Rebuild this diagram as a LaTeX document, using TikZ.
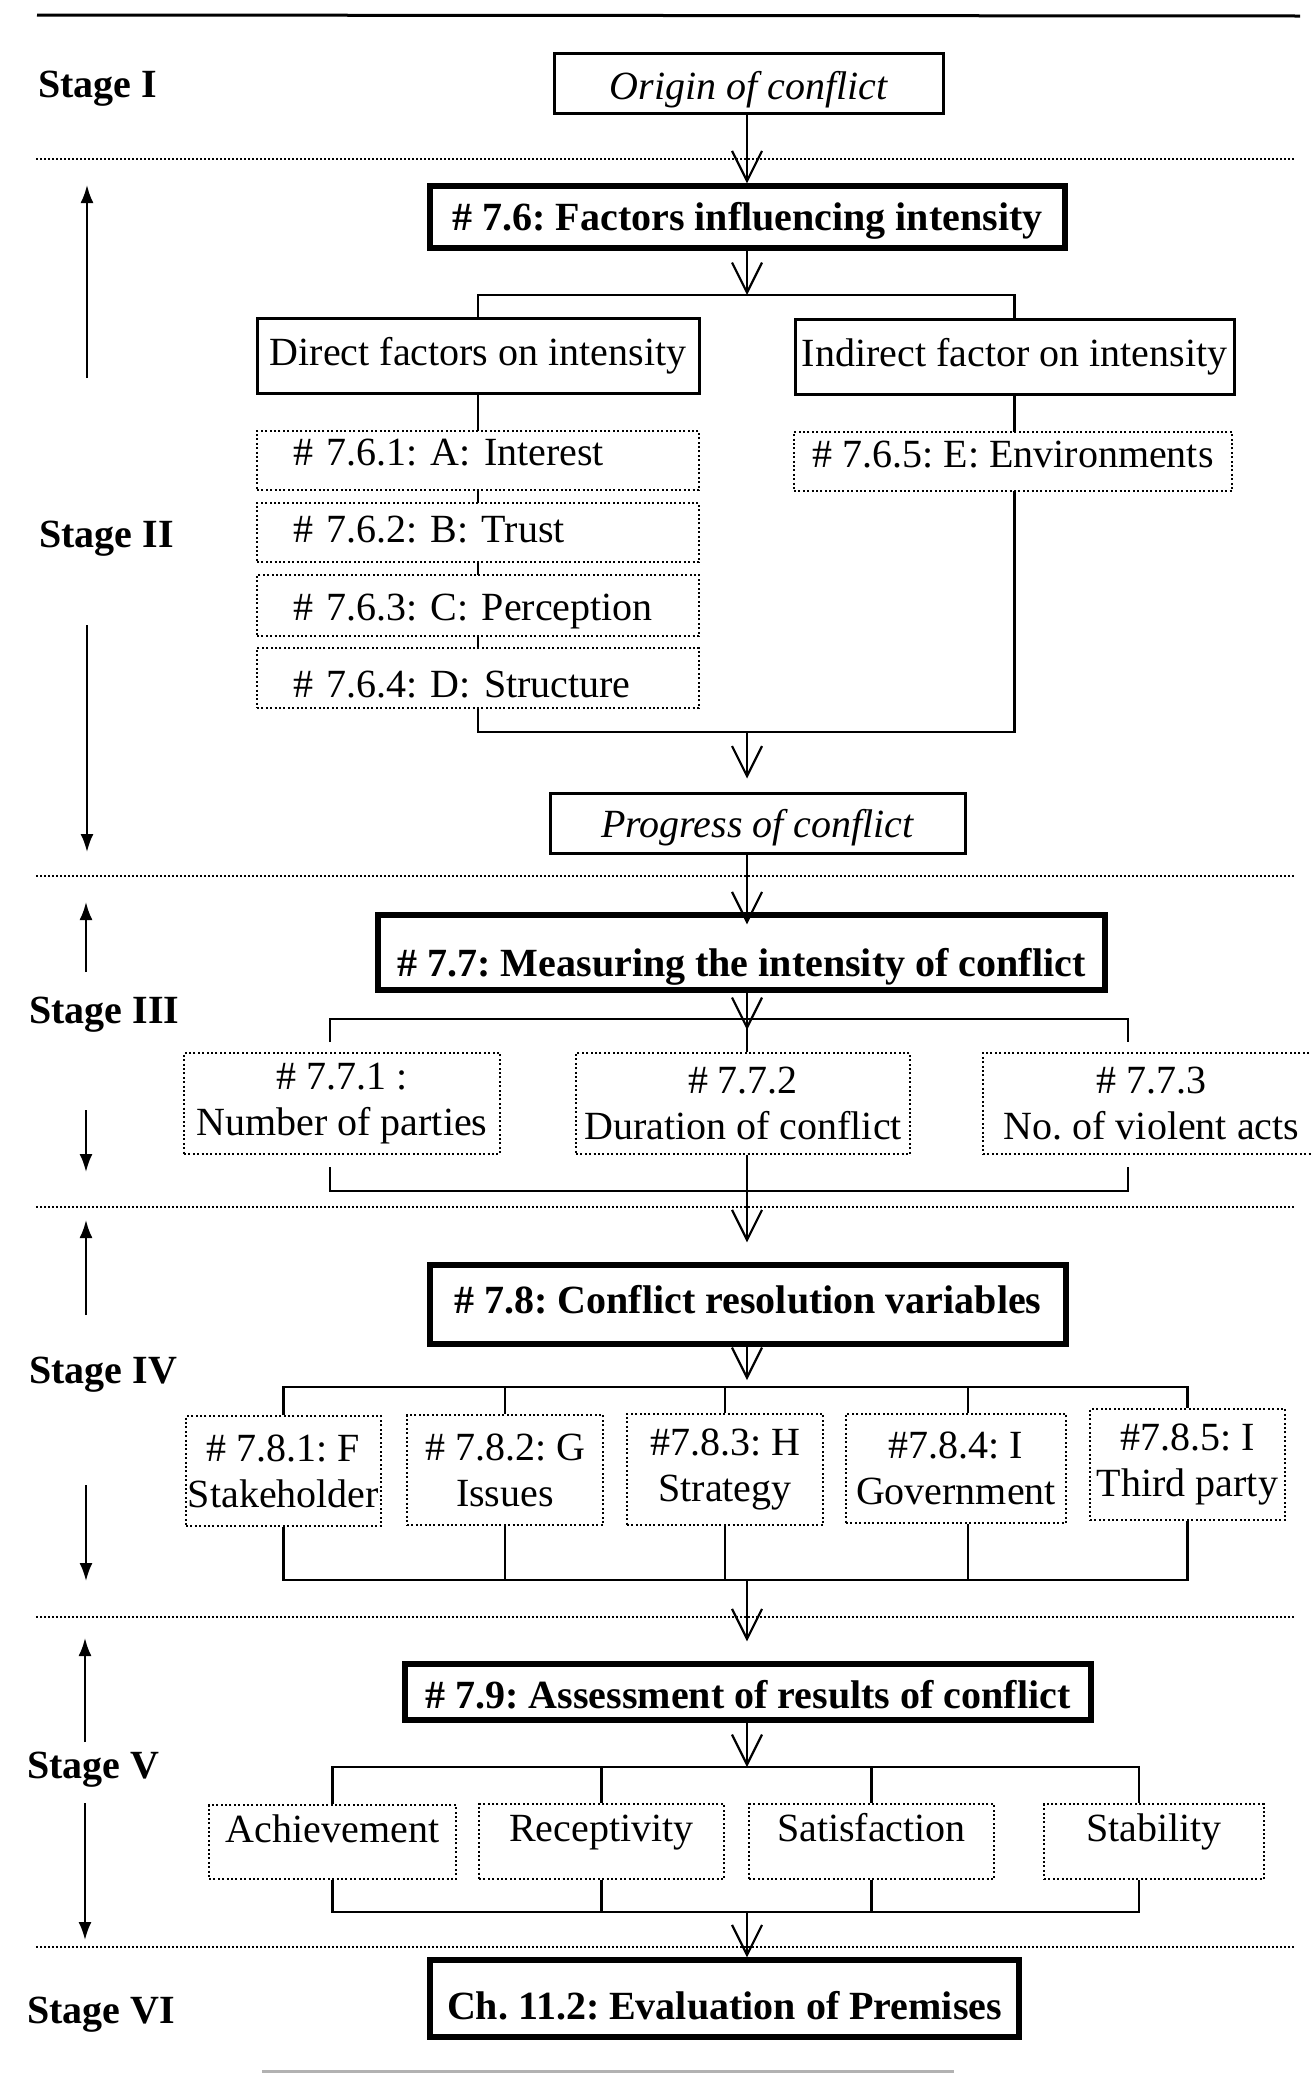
\documentclass[tikz,border=0pt]{standalone}
\usepackage{fontspec}
\setmainfont{Liberation Serif}
\usetikzlibrary{arrows.meta}
\begin{document}
\frenchspacing
\begin{tikzpicture}[x=0.5pt,y=-0.5pt,
  every node/.style={inner sep=0pt, font=\fontsize{20}{23}\selectfont},
  boxat/.style args={#1/#2/#3/#4}{at={({(#1+#3)/2},{(#2+#4)/2})},
    minimum width={(#3-#1)*0.5pt}, minimum height={(#4-#2)*0.5pt}},
  plainbox/.style={draw, line width=1.5pt, fill=white},
  headbox/.style={draw, line width=2.6pt, fill=white, font=\fontsize{20}{23}\selectfont\bfseries},
  dotbox/.style={draw, line width=1pt, dash pattern=on 1pt off 1.2pt, fill=white},
  txtpos/.style 2 args={text height=#1, text depth=#2},
  leftlist/.style={text width=185pt, align=left},
  twoline/.style={align=center},
  conn/.style={line width=1.1pt},
  flow/.style={conn, -{Straight Barb[length=15pt,width=15pt]}},
  span/.style={line width=1.1pt, -{Latex[length=9pt,width=6.5pt]}},
  divider/.style={line width=1pt, dash pattern=on 1pt off 1pt},
  stagelabel/.style={anchor=base west, font=\fontsize{20}{23}\selectfont\bfseries},
]
\useasboundingbox (0,0) rectangle (1312,2073);
\fill[white] (0,0) rectangle (1312,2073);
\clip (0,0) rectangle (1312,2073);

% page rules and stage dividers
\draw[line width=1.5pt] (37,15) -- (1300,16);
\draw[line width=1.5pt, gray!60] (262,2071) -- (954,2071);
\foreach \yy in {159,876,1207,1617,1947}
  \draw[divider] (36,\yy) -- (1296,\yy);

% main vertical spine and branching points
\coordinate (spine) at (747,0);
\coordinate (splitA) at (747,295);
\coordinate (mergeA) at (747,732);
\coordinate (split77) at (747,1019);
\coordinate (b77L) at (330,1019);
\coordinate (b77R) at (1128,1019);
\coordinate (join77) at (747,1191);
\coordinate (split78) at (747,1387);
\coordinate (join78) at (747,1580);
\coordinate (split79) at (747,1767);
\coordinate (join79) at (747,1912);

% stage labels
\node[stagelabel] (stI)   at (38,97)   {Stage I};
\node[stagelabel] (stII)  at (39,547)  {Stage II};
\node[stagelabel] (stIII) at (29,1023) {Stage III};
\node[stagelabel] (stIV)  at (29,1383) {Stage IV};
\node[stagelabel] (stV)   at (27,1778) {Stage V};
\node[stagelabel] (stVI)  at (27,2023) {Stage VI};

% stage extent arrows
\coordinate (u2a) at (87,378);  \coordinate (u2b) at (87,185);
\coordinate (d2a) at (87,625);  \coordinate (d2b) at (87,852);
\coordinate (u3a) at (86,972);  \coordinate (u3b) at (86,902);
\coordinate (d3a) at (86,1110); \coordinate (d3b) at (86,1172);
\coordinate (u4a) at (86,1315); \coordinate (u4b) at (86,1220);
\coordinate (d4a) at (86,1485); \coordinate (d4b) at (86,1581);
\coordinate (u5a) at (85,1742); \coordinate (u5b) at (85,1638);
\coordinate (d5a) at (85,1803); \coordinate (d5b) at (85,1940);
\draw[span] (u2a) -- (u2b);  \draw[span] (d2a) -- (d2b);
\draw[span] (u3a) -- (u3b);  \draw[span] (d3a) -- (d3b);
\draw[span] (u4a) -- (u4b);  \draw[span] (d4a) -- (d4b);
\draw[span] (u5a) -- (u5b);  \draw[span] (d5a) -- (d5b);

% Stage I and II
\node[plainbox, boxat=554/53/943/113, txtpos={22pt}{6pt}] (origin) {\itshape Origin of conflict};
\node[headbox, boxat=430/186/1065/248, txtpos={20.5pt}{7.5pt}] (factors) {\# 7.6: Factors influencing intensity};
\draw[flow] (spine |- origin.south) -- (spine |- factors.north);

\node[plainbox, boxat=257/318/699/393, txtpos={19pt}{9pt}] (direct) {Direct factors on intensity};
\node[plainbox, boxat=795/319/1234/394, txtpos={19pt}{9pt}] (indirect) {Indirect factor on intensity};
\draw[flow] (spine |- factors.south) -- (splitA);
\draw[conn] (direct.north) -- (direct.north |- splitA) -- (indirect.north |- splitA) -- (indirect.north);

% both factor chains join before the progress box
\draw[conn] (direct.south) |- (mergeA) -| (indirect.south);

\node[dotbox, boxat=257/431/699/490, leftlist, txtpos={16.5pt}{11.5pt}] (f1) {\# 7.6.1: A: Interest};
\node[dotbox, boxat=257/503/699/562, leftlist, txtpos={19pt}{9pt}] (f2) {\# 7.6.2: B: Trust};
\node[dotbox, boxat=257/575/699/636, leftlist, txtpos={21.5pt}{6.5pt}] (f3) {\# 7.6.3: C: Perception};
\node[dotbox, boxat=257/648/699/708, leftlist, txtpos={23.5pt}{4.5pt}] (f4) {\# 7.6.4: D: Structure};
\node[dotbox, boxat=794/432/1232/491, txtpos={17pt}{11pt}] (f5) {\# 7.6.5: E: Environments};

\node[plainbox, boxat=550/793/965/853, txtpos={21pt}{7pt}] (progress) {\itshape Progress of conflict};
\draw[flow, shorten >=6.5pt] (mergeA) -- (spine |- progress.north);

% Stage III
\node[headbox, boxat=378/915/1105/990, txtpos={26pt}{2pt}] (measure) {\# 7.7: Measuring the intensity of conflict};
\draw[flow, shorten >=-6pt] (spine |- progress.south) -- (spine |- measure.north);

\node[dotbox, boxat=184/1053/500/1154, twoline] (num) {\# 7.7.1 :\\Number of parties};
\node[dotbox, boxat=576/1053/910/1154, twoline] (dur) {\# 7.7.2\\Duration of conflict};
\node[dotbox, boxat=983/1053/1320/1154, twoline] (viol) {\# 7.7.3\\No. of violent acts};

\draw[flow, shorten >=-5.5pt] (spine |- measure.south) -- (split77);
\draw[conn] (split77) -- (spine |- dur.north);
\draw[conn, shorten <=5pt, shorten >=5pt] (num.north -| b77L) -- (b77L) -- (b77R) -- (viol.north -| b77R);
\draw[conn, shorten <=6pt, shorten >=6pt] (num.south -| b77L) -- (b77L |- join77) -- (b77R |- join77) -- (viol.south -| b77R);

% Stage IV
\node[headbox, boxat=430/1265/1066/1344, txtpos={18.5pt}{9.5pt}] (res) {\# 7.8: Conflict resolution variables};
\draw[flow, shorten >=10pt] (spine |- dur.south) -- (spine |- res.north);

\node[dotbox, boxat=186/1416/381/1526, twoline] (s1) {\# 7.8.1: F\\Stakeholder};
\node[dotbox, boxat=407/1415/603/1525, twoline] (s2) {\# 7.8.2: G\\Issues};
\node[dotbox, boxat=627/1414/823/1525, twoline] (s3) {\#7.8.3: H\\Strategy};
\node[dotbox, boxat=846/1414/1066/1523, twoline] (s4) {\#7.8.4: I\\Government};
\node[dotbox, boxat=1090/1409/1285/1520, twoline] (s5) {\#7.8.5: I\\Third party};

\draw[flow, shorten >=3.5pt] (spine |- res.south) -- (split78);
\draw[conn] (s1.north) -- (s1.north |- split78) -- (s5.north |- split78) -- (s5.north);
\draw[conn] (s2.north) -- (s2.north |- split78);
\draw[conn] (s3.north) -- (s3.north |- split78);
\draw[conn] ([xshift=6pt]s4.north) -- ([xshift=6pt]s4.north |- split78);
\draw[conn] (s1.south) -- (s1.south |- join78) -- (s5.south |- join78) -- (s5.south);
\draw[conn] (s2.south) -- (s2.south |- join78);
\draw[conn] (s3.south) -- (s3.south |- join78);
\draw[conn] ([xshift=6pt]s4.south) -- ([xshift=6pt]s4.south |- join78);

% Stage V
\node[headbox, boxat=405/1665/1091/1719, txtpos={22pt}{6pt}] (assess) {\# 7.9: Assessment of results of conflict};
\draw[flow, shorten >=10pt] (join78) -- (spine |- assess.north);

\node[dotbox, boxat=209/1805/456/1879, txtpos={14pt}{14pt}] (a1) {Achievement};
\node[dotbox, boxat=479/1804/724/1879, txtpos={14pt}{14pt}] (a2) {Receptivity};
\node[dotbox, boxat=749/1804/994/1879, txtpos={14pt}{14pt}] (a3) {Satisfaction};
\node[dotbox, boxat=1044/1804/1264/1879, txtpos={14pt}{14pt}] (a4) {Stability};

\draw[flow] (spine |- assess.south) -- (split79);
\draw[conn] (a1.north) -- (a1.north |- split79) -- ([xshift=-7.5pt]a4.north |- split79) -- ([xshift=-7.5pt]a4.north);
\draw[conn] (a2.north) -- (a2.north |- split79);
\draw[conn] (a3.north) -- (a3.north |- split79);
\draw[conn] (a1.south) -- (a1.south |- join79) -- ([xshift=-7.5pt]a4.south |- join79) -- ([xshift=-7.5pt]a4.south);
\draw[conn] (a2.south) -- (a2.south |- join79);
\draw[conn] (a3.south) -- (a3.south |- join79);

% Stage VI
\node[headbox, boxat=430/1960/1019/2037, txtpos={24.5pt}{3.5pt}] (ch) {Ch. 11.2: Evaluation of Premises};
\draw[flow] (join79) -- (spine |- ch.north);
\end{tikzpicture}
\end{document}
